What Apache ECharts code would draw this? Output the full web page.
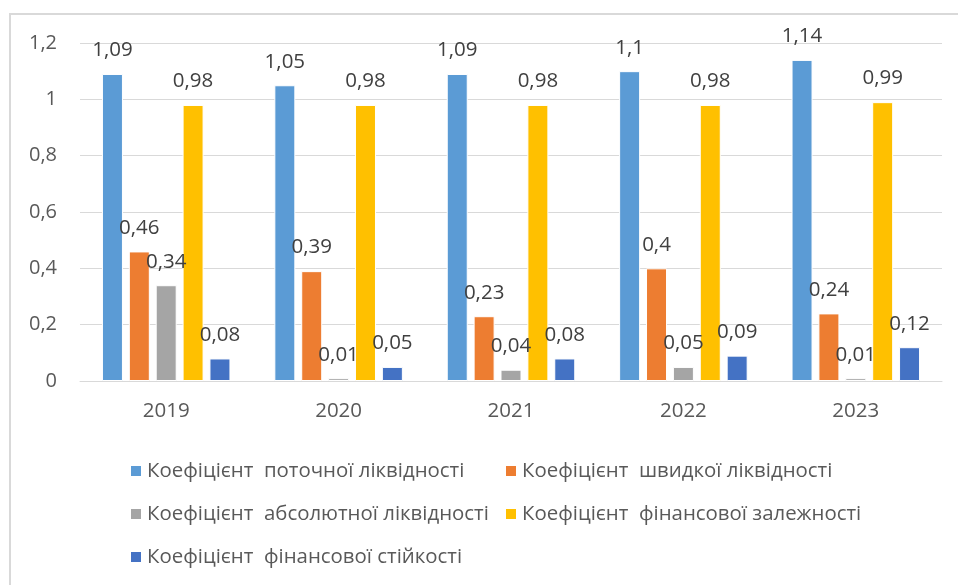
<!DOCTYPE html>
<html>
<head>
<meta charset="utf-8">
<script src="https://cdn.jsdelivr.net/npm/echarts@6/dist/echarts.min.js"></script>
<style>
  html, body { margin: 0; padding: 0; background: #fff; }
  #chart { width: 958px; height: 585px; }
</style>
</head>
<body>
<div id="chart"></div>
<script>
// Years on the category axis
const years = ['2019', '2020', '2021', '2022', '2023'];

// Series names (Ukrainian financial ratios)
const nameCurrent = 'Коефіцієнт  поточної ліквідності';
const nameQuick = 'Коефіцієнт  швидкої ліквідності';
const nameAbsolute = 'Коефіцієнт  абсолютної ліквідності';
const nameDependence = 'Коефіцієнт  фінансової залежності';
const nameStability = 'Коефіцієнт  фінансової стійкості';

// Ratio values per year
const currentLiquidity = [1.09, 1.05, 1.09, 1.10, 1.14];
const quickLiquidity = [0.46, 0.39, 0.23, 0.40, 0.24];
const absoluteLiquidity = [0.34, 0.01, 0.04, 0.05, 0.01];
const financialDependence = [0.98, 0.98, 0.98, 0.98, 0.99];
const financialStability = [0.08, 0.05, 0.08, 0.09, 0.12];

const FONT = '"Open Sans", "DejaVu Sans", sans-serif';
const TEXT = '#595959';

// Decimal comma, trailing zeros dropped
const fmt = v => String(Number(v)).replace('.', ',');

function bar(name, data, color) {
  return {
    name: name,
    type: 'bar',
    data: data,
    barWidth: 21,
    barGap: '28%',
    barMinHeight: 2,
    itemStyle: { color: color, borderColor: '#ffffff', borderWidth: 1 },
    label: {
      show: true,
      position: 'top',
      distance: 13,
      formatter: p => fmt(p.value),
      fontFamily: FONT,
      fontSize: 20.5,
      color: '#404040'
    }
  };
}

const chart = echarts.init(document.getElementById('chart'), null, { renderer: 'canvas' });

const legendText = { fontFamily: FONT, fontSize: 20.4, color: TEXT };

chart.setOption({
  backgroundColor: '#ffffff',
  animation: false,
  graphic: [{
    type: 'rect',
    shape: { x: 10, y: 14, width: 1000, height: 700 },
    style: { fill: 'none', stroke: '#d9d9d9', lineWidth: 2 },
    silent: true,
    z: -1
  }],
  grid: { left: 80, right: 16, top: 43, bottom: 204, containLabel: false },
  legend: [
    {
      data: [nameCurrent, nameAbsolute, nameStability],
      orient: 'vertical',
      left: 124,
      top: 456,
      itemWidth: 12,
      itemHeight: 12,
      itemGap: 23,
      icon: 'rect',
      textStyle: legendText
    },
    {
      data: [nameQuick, nameDependence],
      orient: 'vertical',
      left: 499,
      top: 456,
      itemWidth: 12,
      itemHeight: 12,
      itemGap: 23,
      icon: 'rect',
      textStyle: legendText
    }
  ],
  xAxis: {
    type: 'category',
    data: years,
    axisLine: { lineStyle: { color: '#d9d9d9', width: 1 } },
    axisTick: { show: false },
    axisLabel: { fontFamily: FONT, fontSize: 20.5, color: TEXT, margin: 20 }
  },
  yAxis: {
    type: 'value',
    min: 0,
    max: 1.2,
    interval: 0.2,
    axisLine: { show: false },
    axisTick: { show: false },
    splitLine: { lineStyle: { color: '#d9d9d9', width: 1 } },
    axisLabel: {
      fontFamily: FONT,
      fontSize: 20,
      color: TEXT,
      margin: 23,
      formatter: v => fmt(Math.round(v * 10) / 10)
    }
  },
  series: [
    bar(nameCurrent, currentLiquidity, '#5B9BD5'),
    bar(nameQuick, quickLiquidity, '#ED7D31'),
    bar(nameAbsolute, absoluteLiquidity, '#A5A5A5'),
    bar(nameDependence, financialDependence, '#FFC000'),
    bar(nameStability, financialStability, '#4472C4')
  ]
});
</script>
</body>
</html>
